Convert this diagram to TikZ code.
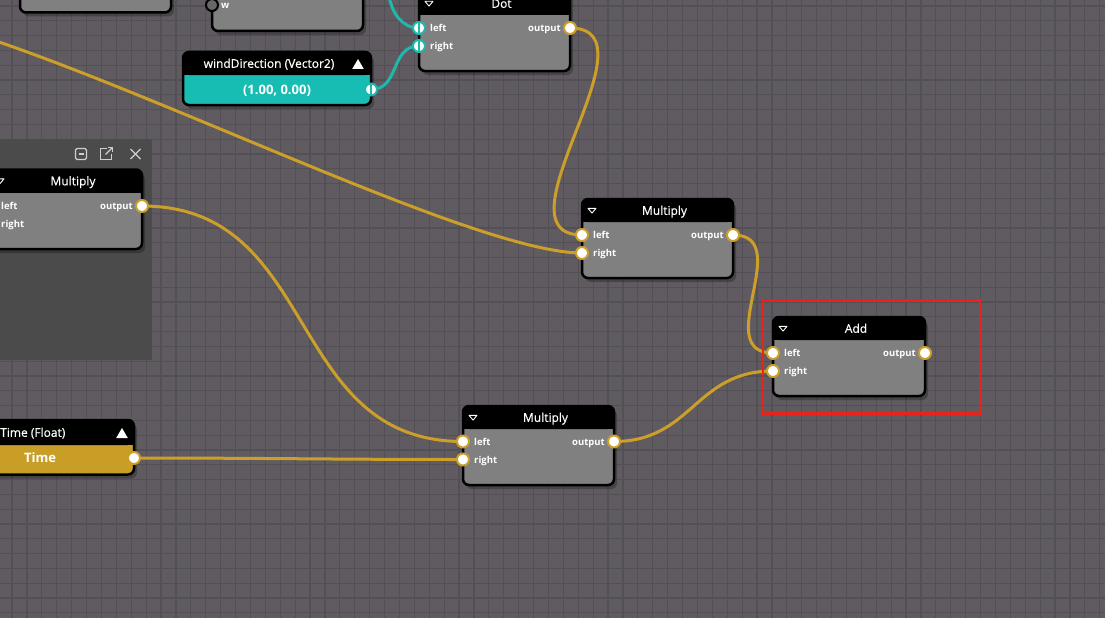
\documentclass[tikz,border=0pt]{standalone}
\usepackage{fontspec}
\setmainfont{Open Sans}
\newfontfamily\headfont[FakeBold=0.5]{Open Sans}
\usetikzlibrary{backgrounds}
\pgfdeclarelayer{bglayer}
\pgfdeclarelayer{edgelayer}
\pgfdeclarelayer{nodelayer}
\pgfsetlayers{bglayer,edgelayer,nodelayer,main}
\definecolor{canvas}{HTML}{5F5B61}
\definecolor{gridline}{HTML}{525055}
\definecolor{panelgray}{HTML}{4B4B4B}
\definecolor{bodygray}{HTML}{808080}
\definecolor{wiregold}{HTML}{CC9F2A}
\definecolor{wireteal}{HTML}{1FB8AD}
\definecolor{vecteal}{HTML}{17BDB2}
\definecolor{floatgold}{HTML}{C99E26}
\definecolor{markred}{HTML}{E8231E}
\definecolor{icongray}{HTML}{CFCFCF}
\tikzset{font=\headfont\fontsize{12}{14}\selectfont}
\tikzstyle{none}=[inner sep=0pt]
\tikzstyle{gridrule}=[draw=gridline, line width=1.2pt]
\tikzstyle{nodebox}=[draw=black, line width=2.5pt, rounded corners=6pt]
\tikzstyle{boxshadow}=[fill=black, opacity=0.25, rounded corners=6pt]
\tikzstyle{nodehead}=[fill=black]
\tikzstyle{port}=[circle, fill=white, draw=wiregold, line width=2pt, minimum size=12pt, inner sep=0pt]
\tikzstyle{vport}=[port, draw=wireteal, path picture={\draw[wireteal, line width=2pt] (path picture bounding box.north) -- (path picture bounding box.south);}]
\tikzstyle{freeport}=[port, fill=bodygray!120, draw=black]
\tikzstyle{wire}=[draw=wiregold, line width=3pt]
\tikzstyle{vwire}=[draw=wireteal, line width=3pt]
\tikzstyle{headtext}=[inner sep=0pt, text=white, text height=8.6pt, text depth=0pt]
\tikzstyle{portlabel}=[inner sep=0pt, text=white, text height=7pt, text depth=0pt, font=\normalfont\bfseries\fontsize{9.5}{11}\selectfont]
\tikzstyle{valtext}=[inner sep=0pt, text=white, text height=9.3pt, text depth=0pt, font=\normalfont\bfseries\fontsize{13}{15}\selectfont]
\tikzstyle{foldmark}=[draw=white, line width=0.9pt, line join=round]
\tikzstyle{icon}=[draw=icongray, line width=1.3pt]
\tikzstyle{redframe}=[draw=markred, line width=2.6pt]

\begin{document}
\begin{tikzpicture}[x=1pt, y=-1pt]
	\useasboundingbox (0,0) rectangle (1105,618);
	\begin{pgfonlayer}{bglayer}
		\clip (0,0) rectangle (1105,618);
		\fill[canvas] (0,0) rectangle (1105,618);
		\foreach \i in {0,...,73}
			\draw[style=gridrule] ({12+14.9*\i},0) -- ({12+14.9*\i},618);
		\foreach \j in {0,...,41}
			\draw[style=gridrule] (0,{6+14.8*\j}) -- (1105,{6+14.8*\j});
		\fill[panelgray] (0,138.5) rectangle (152,360);
		% boxes without a visible header
		\foreach \l/\r/\b in {20/171/12.5, 212/363/31} {
			\fill[style=boxshadow] (\l+3,-36) rectangle (\r+3,\b+4);
			\draw[style=nodebox, fill=bodygray] (\l,-40) rectangle (\r,\b);
		}
		% boxes: left/top/right/header/bottom/body colour
		\foreach \l/\t/\r/\h/\b/\c in {419/-30/570/15/71/bodygray, -10/169.5/142/192.5/249/bodygray, 582/199/733/222/278/bodygray, 773/317/925/340/396/bodygray, 463/406/614/429/485/bodygray, 183/52/371/75/105/vecteal, -10/420/134/445/474.5/floatgold} {
			\fill[style=boxshadow] (\l+3,\t+4) rectangle (\r+3,\b+4);
			\draw[style=nodebox, fill=\c] (\l,\t) rectangle (\r,\b);
			\fill[style=nodehead, rounded corners=6pt] (\l,\t) rectangle (\r,\h);
			\fill[style=nodehead] (\l,\h-7) rectangle (\r,\h);
		}
	\end{pgfonlayer}
	\begin{pgfonlayer}{nodelayer}
		\node [style=freeport] (0) at (212, 5) {};
		\node [style=vport] (1) at (419, 28) {};
		\node [style=vport] (2) at (419, 46) {};
		\node [style=port] (3) at (570, 28) {};
		\node [style=vport] (4) at (371, 89.5) {};
		\node [style=port] (5) at (142, 206) {};
		\node [style=port] (6) at (582, 235) {};
		\node [style=port] (7) at (582, 253) {};
		\node [style=port] (8) at (733, 235) {};
		\node [style=port] (9) at (773, 353) {};
		\node [style=port] (10) at (773, 371) {};
		\node [style=port] (11) at (925, 353) {};
		\node [style=port] (12) at (134, 458) {};
		\node [style=port] (13) at (463, 441.5) {};
		\node [style=port] (14) at (463, 459.5) {};
		\node [style=port] (15) at (614, 441.5) {};
		\node [style=none] (16) at (-1, 42) {};
		\node [style=none] (17) at (389, -4) {};

		\node [style=portlabel, anchor=west] (18) at (221, 5) {w};
		\node [style=headtext] (19) at (501.5, 3.5) {Dot};
		\node [style=portlabel, anchor=west] (20) at (430, 28) {left};
		\node [style=portlabel, anchor=west] (21) at (430, 46) {right};
		\node [style=portlabel, anchor=east] (22) at (561, 28) {output};
		\node [style=headtext] (23) at (269, 63.5) {windDirection (Vector2)};
		\node [style=valtext] (24) at (277, 89.5) {(1.00, 0.00)};
		\node [style=headtext] (25) at (73, 181) {Multiply};
		\node [style=portlabel, anchor=west] (26) at (1, 205.5) {left};
		\node [style=portlabel, anchor=west] (27) at (1, 223.5) {right};
		\node [style=portlabel, anchor=east] (28) at (133, 206) {output};
		\node [style=headtext] (29) at (664.5, 210.5) {Multiply};
		\node [style=portlabel, anchor=west] (30) at (593, 235) {left};
		\node [style=portlabel, anchor=west] (31) at (593, 253) {right};
		\node [style=portlabel, anchor=east] (32) at (724, 235) {output};
		\node [style=headtext] (33) at (856, 328.5) {Add};
		\node [style=portlabel, anchor=west] (34) at (784, 353) {left};
		\node [style=portlabel, anchor=west] (35) at (784, 371) {right};
		\node [style=portlabel, anchor=east] (36) at (916, 353) {output};
		\node [style=headtext] (37) at (545.5, 417.5) {Multiply};
		\node [style=portlabel, anchor=west] (38) at (474, 441.5) {left};
		\node [style=portlabel, anchor=west] (39) at (474, 459.5) {right};
		\node [style=portlabel, anchor=east] (40) at (605, 441.5) {output};
		\node [style=headtext, anchor=west] (41) at (0, 432.5) {Time (Float)};
		\node [style=valtext] (42) at (40, 458) {Time};

		% collapse marks and pins
		\foreach \x/\y in {429/3.5, 0/181, 592/210.5, 783/328.5, 473/417.5}
			\draw[style=foldmark] (\x-4,\y-2.2) -- (\x+4,\y-2.2) -- (\x,\y+2.6) -- cycle;
		\foreach \x/\y in {358/64, 122/433}
			\fill[white] (\x-5.8,\y+5) -- (\x+5.8,\y+5) -- (\x,\y-5) -- cycle;
		% panel buttons
		\draw[style=icon, rounded corners=1.5pt] (75.5,148.5) rectangle (86.5,159.5);
		\draw[style=icon] (78.5,154) -- (83.5,154);
		\draw[style=icon] (106.5,148.5) -- (100.5,148.5) -- (100.5,159.5) -- (111.5,159.5) -- (111.5,153.5);
		\draw[style=icon] (105.5,154.5) -- (112.5,147.5);
		\draw[style=icon] (108,147.5) -- (112.5,147.5) -- (112.5,152);
		\draw[style=icon] (130.5,149) -- (140.5,159);
		\draw[style=icon] (140.5,149) -- (130.5,159);
	\end{pgfonlayer}
	\begin{pgfonlayer}{edgelayer}
		\clip (0,0) rectangle (1105,618);
		\draw[style=wire] [in=180, out=-19, out looseness=0.83, in looseness=0.41] (16.center) to (7.center);
		\draw[style=wire] [in=180, out=0, looseness=1.13] (3.center) to (6.center);
		\draw[style=wire] [in=180, out=0, looseness=1.30] (8.center) to (9.center);
		\draw[style=wire] [in=180, out=0, looseness=1.15] (5.center) to (13.center);
		\draw[style=wire] [in=180, out=0, looseness=1.15] (15.center) to (10.center);
		\draw[style=wire] [in=180, out=0, looseness=1.00] (12.center) to (14.center);
		\draw[style=vwire] [in=180, out=-80, looseness=1.00] (17.center) to (1.center);
		\draw[style=vwire] [in=180, out=0, looseness=1.15] (4.center) to (2.center);
	\end{pgfonlayer}
	\draw[style=redframe] (763,300.5) rectangle (980,413.5);
\end{tikzpicture}
\end{document}
